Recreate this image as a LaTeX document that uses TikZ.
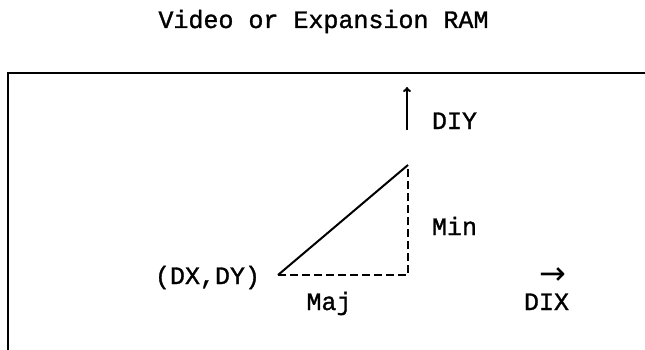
\documentclass[tikz,border=0pt]{standalone}
\usepackage{fontspec}
\setmonofont[FakeBold=1.2]{Liberation Mono}
\newfontfamily\arrowfont{DejaVu Sans}
\usetikzlibrary{arrows.meta}
\begin{document}
\begin{tikzpicture}[x=1pt, y=-1pt, line width=2pt,
    lbl/.style={font=\ttfamily\fontsize{25}{30}\selectfont, inner sep=0pt, anchor=base},
    dashline/.style={line width=1.7pt, dash pattern=on 8pt off 4pt}]
      \useasboundingbox (0,0) rectangle (645,350);

      % frame
      \coordinate (frameR) at (645,73);
      \coordinate (frameTL) at (8,73);
      \coordinate (frameB) at (8,350);
      \draw (frameR) -- (frameTL) -- (frameB);

      % line and its two legs
      \coordinate (start) at (278,275);
      \coordinate (stop) at (408,165);
      \coordinate (corner) at (408,275);
      \draw (start) -- (stop);
      \draw[dashline] (start) -- (corner) -- (stop);

      % direction of DIY
      \coordinate (diyLow) at (407,130);
      \coordinate (diyHigh) at (407,87);
      \draw[-{To[length=5pt,width=8pt]}] (diyLow) -- (diyHigh);

      \node[lbl] (title) at (323.5,28) {Video or Expansion RAM};
      \node[lbl] (diy) at (454.5,129) {DIY};
      \node[lbl] (min) at (454.5,235) {Min};
      \node[lbl] (dxdy) at (207.5,284) {(DX,DY)};
      \node[lbl] (maj) at (329,310) {Maj};
      \node[lbl] (dix) at (546.5,310) {DIX};
      \node[inner sep=0pt, font=\arrowfont\fontsize{32}{36}\selectfont] (dixarr) at (552.5,276) {→};
    \end{tikzpicture}
\end{document}
